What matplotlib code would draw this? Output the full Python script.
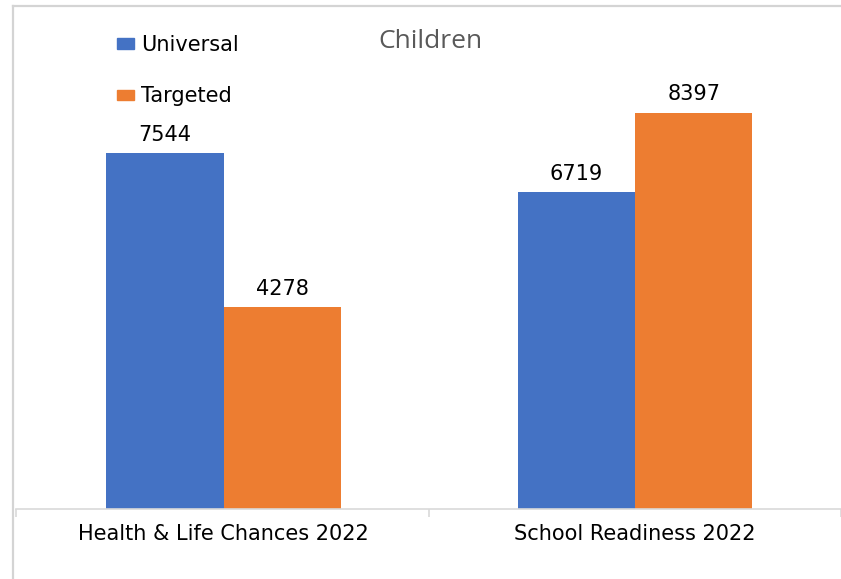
import numpy as np
import matplotlib
matplotlib.use("Agg")
import matplotlib.pyplot as plt
from matplotlib.patches import Patch
from matplotlib.lines import Line2D

categories = ["Health & Life Chances 2022", "School Readiness 2022"]
universal = [7544, 6719]
targeted = [4278, 8397]
series_names = ["Universal", "Targeted"]

blue = "#4472C4"
orange = "#ED7D31"
grid_grey = "#D9D9D9"

plt.rcParams['font.family'] = ['DejaVu Sans']

W, H = 841, 579
fig = plt.figure(figsize=(W / 100, H / 100), dpi=100)

# axes: left edge at px 16, baseline at px 509; category centres at px 225.5 and 641
left_px, base_px, top_px = 16, 509, 37
c0_px, step_px = 225.5, 415.5
ax = fig.add_axes([left_px / W, (H - base_px) / H, (W - left_px) / W, (base_px - top_px) / H])
ax.set_xlim(-(c0_px - left_px) / step_px, (W - c0_px) / step_px)
ax.set_ylim(0, 10000)

x = np.arange(len(categories))
w = 0.285
b1 = ax.bar(x - w / 2, universal, w, color=blue, label=series_names[0])
b2 = ax.bar(x + w / 2, targeted, w, color=orange, label=series_names[1])

for bars in (b1, b2):
    for r in bars:
        ax.annotate(str(int(r.get_height())), (r.get_x() + r.get_width() / 2, r.get_height()),
                    xytext=(0, 6), textcoords="offset points", ha="center", va="bottom",
                    fontsize=15, color="#000000")

for s in ["left", "right", "top"]:
    ax.spines[s].set_visible(False)
ax.spines["bottom"].set_color(grid_grey)
ax.spines["bottom"].set_linewidth(1.2)
ax.set_yticks([])
ax.set_xticks(x)
ax.set_xticklabels(categories, fontsize=15, color="#000000")
ax.tick_params(axis="x", which="major", length=0, pad=11)
ax.set_xticks([ax.get_xlim()[0] + 0.001, 0.5, 1.5], minor=True)
ax.tick_params(axis="x", which="minor", length=6, width=1.2, color=grid_grey, direction="out")

handles = [Patch(color=blue), Patch(color=orange)]
fig.legend(handles, series_names, loc="upper left", bbox_to_anchor=(117 / W, 1 - 35 / H),
           frameon=False, fontsize=15, handlelength=0.8, handleheight=0.4,
           handletextpad=0.35, labelspacing=1.5, borderpad=0, borderaxespad=0)

fig.text(430 / W, 1 - 42 / H, "Children", ha="center", va="center",
         fontsize=19, color="#595959", family=["Open Sans", "DejaVu Sans"])

# outer chart border (cropped screenshot: only top and left edges visible)
fig.add_artist(Line2D([12.5 / W, 12.5 / W], [0, 1 - 6 / H], color="#D4D4D4", lw=1.6,
                      transform=fig.transFigure))
fig.add_artist(Line2D([12.5 / W, 1], [1 - 6 / H, 1 - 6 / H], color="#D4D4D4", lw=1.6,
                      transform=fig.transFigure))

fig.savefig("out.png", dpi=100)
